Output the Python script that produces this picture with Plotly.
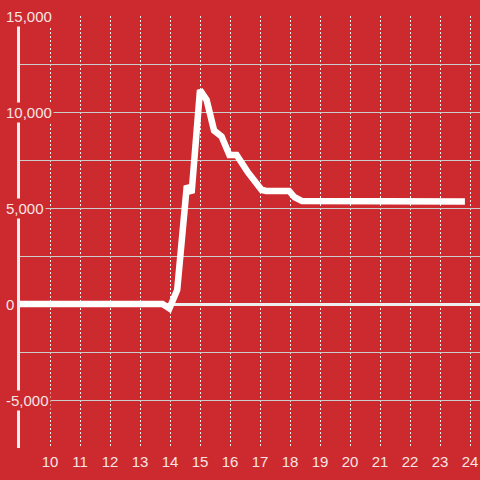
import plotly.graph_objects as go

# series
x_vals = [9.0, 13.75, 13.98, 14.24, 14.56, 14.72, 15.0, 15.22, 15.47, 15.72,
          15.98, 16.22, 16.6, 16.9, 17.05, 17.2, 17.97, 18.15, 18.4, 23.83]
y_vals = [0, 0, -230, 730, 6150, 5780, 11150, 10630, 9030, 8720,
          7760, 7760, 6850, 6200, 5950, 5890, 5890, 5560, 5360, 5340]

x_ticks = list(range(10, 25))
y_ticks = [-5000, 0, 5000, 10000, 15000]
y_tick_text = ["-5,000", "0", "5,000", "10,000", "15,000"]

BG = "#cc2a2e"
TXT = "#f6e4e4"
FONT = "Liberation Sans"

fig = go.Figure()
fig.add_trace(
    go.Scatter(
        x=x_vals,
        y=y_vals,
        mode="lines",
        line={"color": "#ffffff", "width": 6.5},
        hoverinfo="skip",
    )
)

# y labels sit on a background box that hides the axis line behind them
for v, t in zip(y_ticks, y_tick_text):
    fig.add_annotation(
        x=-0.035, xref="paper", xanchor="left",
        y=v, yref="y", yanchor="middle",
        text=t, showarrow=False,
        font={"family": FONT, "size": 15, "color": TXT},
        bgcolor=BG, borderpad=1,
    )

fig.update_layout(
    width=480,
    height=480,
    margin={"l": 20, "r": 0, "t": 16, "b": 32},
    paper_bgcolor=BG,
    plot_bgcolor=BG,
    showlegend=False,
    font={"family": FONT, "size": 15, "color": TXT},
    xaxis={
        "range": [9.0, 24.333],
        "tickvals": x_ticks,
        "showgrid": True,
        "gridcolor": "#eeeeee",
        "griddash": "2px,2px",
        "gridwidth": 1,
        "zeroline": False,
        "showline": False,
        "ticks": "",
        "ticklabelstandoff": 3,
        "tickfont": {"family": FONT, "size": 15, "color": TXT},
    },
    yaxis={
        "range": [-7500, 15000],
        "tickvals": [-7500, -5000, -2500, 0, 2500, 5000, 7500, 10000, 12500, 15000],
        "showticklabels": False,
        "showgrid": True,
        "gridcolor": "#cccccc",
        "gridwidth": 1,
        "zeroline": True,
        "zerolinecolor": "#eeeeee",
        "zerolinewidth": 3,
        "showline": True,
        "linecolor": "#eeeeee",
        "linewidth": 3,
        "ticks": "",
    },
)

fig.write_html(
    "out.html",
    config={"displayModeBar": False},
    post_script="document.body.style.margin='0';",
)
